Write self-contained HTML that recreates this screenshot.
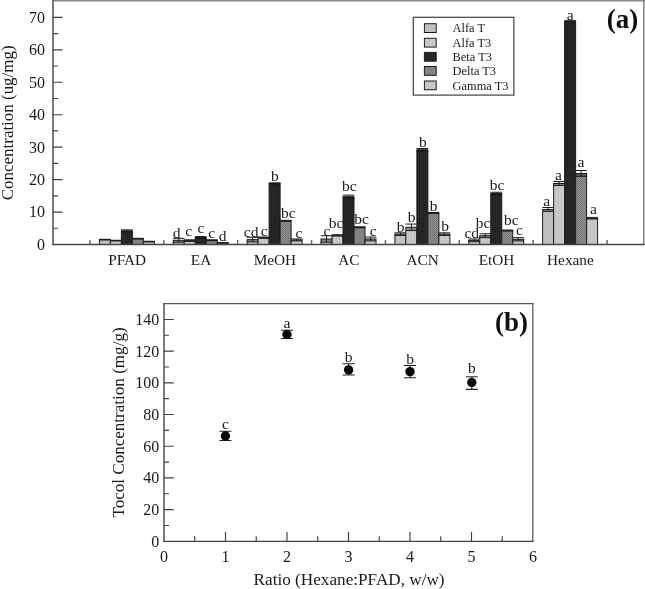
<!DOCTYPE html>
<html><head><meta charset="utf-8"><title>Figure</title>
<style>
html,body{margin:0;padding:0;background:#fff;}
svg{display:block;}
text{font-family:"Liberation Serif",serif;fill:#1a1a1a;}
.tk{font-size:16px;}
.cat{font-size:15.3px;}
.ax{font-size:16.6px;}
.lt{font-size:15.5px;}
.lg{font-size:12.4px;}
.pn{font-size:27px;font-weight:bold;fill:#111;}
</style></head><body>
<svg width="645" height="589" viewBox="0 0 645 589">
<defs>
<pattern id="p1" width="2" height="2" patternUnits="userSpaceOnUse"><rect width="2" height="2" fill="#c3c3c3"/><rect width="1" height="2" fill="#bcbcbc"/></pattern>
<pattern id="p2" width="3" height="2" patternUnits="userSpaceOnUse"><rect width="3" height="2" fill="#cbcbcb"/><rect width="1" height="2" fill="#bdbdbd"/></pattern>
<pattern id="p3" width="2" height="2" patternUnits="userSpaceOnUse"><rect width="2" height="2" fill="#222"/><rect width="1" height="1" fill="#2f2f2f"/></pattern>
<pattern id="p4" width="2" height="2" patternUnits="userSpaceOnUse"><rect width="2" height="2" fill="#8e8e8e"/><rect width="1" height="1" fill="#787878"/><rect x="1" y="1" width="1" height="1" fill="#787878"/></pattern>
<pattern id="p5" width="2" height="2" patternUnits="userSpaceOnUse"><rect width="2" height="2" fill="#c9c9c9"/><rect width="1" height="1" fill="#bfbfbf"/></pattern>
</defs>
<rect width="645" height="589" fill="#fff"/>

<rect x="99.38" y="239.63" width="11.00" height="4.87" fill="url(#p1)" stroke="#1c1c1c" stroke-width="1"/>
<rect x="99.38" y="239.63" width="11.00" height="0.32" fill="#000" fill-opacity="0.3"/>
<path d="M104.88 239.31V239.96M99.08 239.31H110.67M99.08 239.96H110.67" stroke="#1c1c1c" stroke-width="1" fill="none"/>
<rect x="110.38" y="240.61" width="11.00" height="3.89" fill="url(#p2)" stroke="#1c1c1c" stroke-width="1"/>
<rect x="110.38" y="240.61" width="11.00" height="0.32" fill="#000" fill-opacity="0.3"/>
<path d="M115.88 240.28V240.93M110.08 240.28H121.67M110.08 240.93H121.67" stroke="#1c1c1c" stroke-width="1" fill="none"/>
<rect x="121.38" y="230.87" width="11.00" height="13.63" fill="url(#p3)" stroke="#1c1c1c" stroke-width="1"/>
<rect x="121.38" y="230.87" width="11.00" height="0.97" fill="#000" fill-opacity="0.3"/>
<path d="M126.88 229.90V231.84M121.08 229.90H132.68M121.08 231.84H132.68" stroke="#1c1c1c" stroke-width="1" fill="none"/>
<rect x="132.38" y="238.66" width="11.00" height="5.84" fill="url(#p4)" stroke="#1c1c1c" stroke-width="1"/>
<rect x="132.38" y="238.66" width="11.00" height="0.32" fill="#000" fill-opacity="0.3"/>
<path d="M137.88 238.33V238.98M132.07 238.33H143.68M132.07 238.98H143.68" stroke="#1c1c1c" stroke-width="1" fill="none"/>
<rect x="143.38" y="241.58" width="11.00" height="2.92" fill="url(#p5)" stroke="#1c1c1c" stroke-width="1"/>
<rect x="143.38" y="241.58" width="11.00" height="0.32" fill="#000" fill-opacity="0.3"/>
<path d="M148.88 241.25V241.90M143.07 241.25H154.68M143.07 241.90H154.68" stroke="#1c1c1c" stroke-width="1" fill="none"/>
<rect x="173.25" y="240.28" width="11.00" height="4.22" fill="url(#p1)" stroke="#1c1c1c" stroke-width="1"/>
<rect x="173.25" y="240.28" width="11.00" height="1.95" fill="#000" fill-opacity="0.3"/>
<path d="M178.75 238.33V242.23M172.95 238.33H184.55M172.95 242.23H184.55" stroke="#1c1c1c" stroke-width="1" fill="none"/>
<rect x="184.25" y="240.61" width="11.00" height="3.89" fill="url(#p2)" stroke="#1c1c1c" stroke-width="1"/>
<rect x="184.25" y="240.61" width="11.00" height="0.81" fill="#000" fill-opacity="0.3"/>
<path d="M189.75 239.79V241.42M183.95 239.79H195.55M183.95 241.42H195.55" stroke="#1c1c1c" stroke-width="1" fill="none"/>
<rect x="195.25" y="237.52" width="11.00" height="6.98" fill="url(#p3)" stroke="#1c1c1c" stroke-width="1"/>
<rect x="195.25" y="237.52" width="11.00" height="0.97" fill="#000" fill-opacity="0.3"/>
<path d="M200.75 236.55V238.50M194.95 236.55H206.55M194.95 238.50H206.55" stroke="#1c1c1c" stroke-width="1" fill="none"/>
<rect x="206.25" y="240.28" width="11.00" height="4.22" fill="url(#p4)" stroke="#1c1c1c" stroke-width="1"/>
<rect x="206.25" y="240.28" width="11.00" height="0.49" fill="#000" fill-opacity="0.3"/>
<path d="M211.75 239.79V240.77M205.95 239.79H217.55M205.95 240.77H217.55" stroke="#1c1c1c" stroke-width="1" fill="none"/>
<rect x="217.25" y="242.88" width="11.00" height="1.62" fill="url(#p5)" stroke="#1c1c1c" stroke-width="1"/>
<rect x="217.25" y="242.88" width="11.00" height="0.32" fill="#000" fill-opacity="0.3"/>
<path d="M222.75 242.55V243.20M216.95 242.55H228.55M216.95 243.20H228.55" stroke="#1c1c1c" stroke-width="1" fill="none"/>
<rect x="247.12" y="239.63" width="11.00" height="4.87" fill="url(#p1)" stroke="#1c1c1c" stroke-width="1"/>
<rect x="247.12" y="239.63" width="11.00" height="2.27" fill="#000" fill-opacity="0.3"/>
<path d="M252.62 237.36V241.90M246.82 237.36H258.43M246.82 241.90H258.43" stroke="#1c1c1c" stroke-width="1" fill="none"/>
<rect x="258.12" y="237.69" width="11.00" height="6.81" fill="url(#p2)" stroke="#1c1c1c" stroke-width="1"/>
<rect x="258.12" y="237.69" width="11.00" height="0.65" fill="#000" fill-opacity="0.3"/>
<path d="M263.62 237.04V238.33M257.82 237.04H269.43M257.82 238.33H269.43" stroke="#1c1c1c" stroke-width="1" fill="none"/>
<rect x="269.12" y="183.49" width="11.00" height="61.01" fill="url(#p3)" stroke="#1c1c1c" stroke-width="1"/>
<rect x="269.12" y="183.49" width="11.00" height="0.65" fill="#000" fill-opacity="0.3"/>
<path d="M274.62 182.84V184.14M268.82 182.84H280.43M268.82 184.14H280.43" stroke="#1c1c1c" stroke-width="1" fill="none"/>
<rect x="280.12" y="220.81" width="11.00" height="23.69" fill="url(#p4)" stroke="#1c1c1c" stroke-width="1"/>
<rect x="280.12" y="220.81" width="11.00" height="0.49" fill="#000" fill-opacity="0.3"/>
<path d="M285.62 220.32V221.30M279.82 220.32H291.43M279.82 221.30H291.43" stroke="#1c1c1c" stroke-width="1" fill="none"/>
<rect x="291.12" y="239.96" width="11.00" height="4.54" fill="url(#p5)" stroke="#1c1c1c" stroke-width="1"/>
<rect x="291.12" y="239.96" width="11.00" height="0.97" fill="#000" fill-opacity="0.3"/>
<path d="M296.62 238.98V240.93M290.82 238.98H302.43M290.82 240.93H302.43" stroke="#1c1c1c" stroke-width="1" fill="none"/>
<rect x="321.00" y="238.98" width="11.00" height="5.52" fill="url(#p1)" stroke="#1c1c1c" stroke-width="1"/>
<rect x="321.00" y="238.98" width="11.00" height="3.25" fill="#000" fill-opacity="0.3"/>
<path d="M326.50 235.74V242.23M320.70 235.74H332.30M320.70 242.23H332.30" stroke="#1c1c1c" stroke-width="1" fill="none"/>
<rect x="332.00" y="235.41" width="11.00" height="9.09" fill="url(#p2)" stroke="#1c1c1c" stroke-width="1"/>
<rect x="332.00" y="235.41" width="11.00" height="0.65" fill="#000" fill-opacity="0.3"/>
<path d="M337.50 234.76V236.06M331.70 234.76H343.30M331.70 236.06H343.30" stroke="#1c1c1c" stroke-width="1" fill="none"/>
<rect x="343.00" y="196.80" width="11.00" height="47.70" fill="url(#p3)" stroke="#1c1c1c" stroke-width="1"/>
<rect x="343.00" y="196.80" width="11.00" height="1.62" fill="#000" fill-opacity="0.3"/>
<path d="M348.50 195.18V198.42M342.70 195.18H354.30M342.70 198.42H354.30" stroke="#1c1c1c" stroke-width="1" fill="none"/>
<rect x="354.00" y="227.30" width="11.00" height="17.20" fill="url(#p4)" stroke="#1c1c1c" stroke-width="1"/>
<rect x="354.00" y="227.30" width="11.00" height="0.49" fill="#000" fill-opacity="0.3"/>
<path d="M359.50 226.81V227.79M353.70 226.81H365.30M353.70 227.79H365.30" stroke="#1c1c1c" stroke-width="1" fill="none"/>
<rect x="365.00" y="238.98" width="11.00" height="5.52" fill="url(#p5)" stroke="#1c1c1c" stroke-width="1"/>
<rect x="365.00" y="238.98" width="11.00" height="1.95" fill="#000" fill-opacity="0.3"/>
<path d="M370.50 237.04V240.93M364.70 237.04H376.30M364.70 240.93H376.30" stroke="#1c1c1c" stroke-width="1" fill="none"/>
<rect x="394.88" y="234.12" width="11.00" height="10.38" fill="url(#p1)" stroke="#1c1c1c" stroke-width="1"/>
<rect x="394.88" y="234.12" width="11.00" height="1.30" fill="#000" fill-opacity="0.3"/>
<path d="M400.38 232.82V235.41M394.57 232.82H406.18M394.57 235.41H406.18" stroke="#1c1c1c" stroke-width="1" fill="none"/>
<rect x="405.88" y="227.30" width="11.00" height="17.20" fill="url(#p2)" stroke="#1c1c1c" stroke-width="1"/>
<rect x="405.88" y="227.30" width="11.00" height="3.25" fill="#000" fill-opacity="0.3"/>
<path d="M411.38 224.06V230.55M405.57 224.06H417.18M405.57 230.55H417.18" stroke="#1c1c1c" stroke-width="1" fill="none"/>
<rect x="416.88" y="149.75" width="11.00" height="94.75" fill="url(#p3)" stroke="#1c1c1c" stroke-width="1"/>
<rect x="416.88" y="149.75" width="11.00" height="1.30" fill="#000" fill-opacity="0.3"/>
<path d="M422.38 148.45V151.04M416.57 148.45H428.18M416.57 151.04H428.18" stroke="#1c1c1c" stroke-width="1" fill="none"/>
<rect x="427.88" y="213.02" width="11.00" height="31.48" fill="url(#p4)" stroke="#1c1c1c" stroke-width="1"/>
<rect x="427.88" y="213.02" width="11.00" height="0.49" fill="#000" fill-opacity="0.3"/>
<path d="M433.38 212.54V213.51M427.57 212.54H439.18M427.57 213.51H439.18" stroke="#1c1c1c" stroke-width="1" fill="none"/>
<rect x="438.88" y="234.12" width="11.00" height="10.38" fill="url(#p5)" stroke="#1c1c1c" stroke-width="1"/>
<rect x="438.88" y="234.12" width="11.00" height="1.30" fill="#000" fill-opacity="0.3"/>
<path d="M444.38 232.82V235.41M438.57 232.82H450.18M438.57 235.41H450.18" stroke="#1c1c1c" stroke-width="1" fill="none"/>
<rect x="468.75" y="240.28" width="11.00" height="4.22" fill="url(#p1)" stroke="#1c1c1c" stroke-width="1"/>
<rect x="468.75" y="240.28" width="11.00" height="1.30" fill="#000" fill-opacity="0.3"/>
<path d="M474.25 238.98V241.58M468.45 238.98H480.05M468.45 241.58H480.05" stroke="#1c1c1c" stroke-width="1" fill="none"/>
<rect x="479.75" y="235.74" width="11.00" height="8.76" fill="url(#p2)" stroke="#1c1c1c" stroke-width="1"/>
<rect x="479.75" y="235.74" width="11.00" height="1.95" fill="#000" fill-opacity="0.3"/>
<path d="M485.25 233.79V237.69M479.45 233.79H491.05M479.45 237.69H491.05" stroke="#1c1c1c" stroke-width="1" fill="none"/>
<rect x="490.75" y="193.55" width="11.00" height="50.95" fill="url(#p3)" stroke="#1c1c1c" stroke-width="1"/>
<rect x="490.75" y="193.55" width="11.00" height="1.30" fill="#000" fill-opacity="0.3"/>
<path d="M496.25 192.26V194.85M490.45 192.26H502.05M490.45 194.85H502.05" stroke="#1c1c1c" stroke-width="1" fill="none"/>
<rect x="501.75" y="230.55" width="11.00" height="13.95" fill="url(#p4)" stroke="#1c1c1c" stroke-width="1"/>
<rect x="501.75" y="230.55" width="11.00" height="0.49" fill="#000" fill-opacity="0.3"/>
<path d="M507.25 230.06V231.03M501.45 230.06H513.05M501.45 231.03H513.05" stroke="#1c1c1c" stroke-width="1" fill="none"/>
<rect x="512.75" y="239.31" width="11.00" height="5.19" fill="url(#p5)" stroke="#1c1c1c" stroke-width="1"/>
<rect x="512.75" y="239.31" width="11.00" height="1.62" fill="#000" fill-opacity="0.3"/>
<path d="M518.25 237.69V240.93M512.45 237.69H524.05M512.45 240.93H524.05" stroke="#1c1c1c" stroke-width="1" fill="none"/>
<rect x="542.62" y="209.45" width="11.00" height="35.05" fill="url(#p1)" stroke="#1c1c1c" stroke-width="1"/>
<rect x="542.62" y="209.45" width="11.00" height="1.95" fill="#000" fill-opacity="0.3"/>
<path d="M548.12 207.51V211.40M542.33 207.51H553.92M542.33 211.40H553.92" stroke="#1c1c1c" stroke-width="1" fill="none"/>
<rect x="553.62" y="183.49" width="11.00" height="61.01" fill="url(#p2)" stroke="#1c1c1c" stroke-width="1"/>
<rect x="553.62" y="183.49" width="11.00" height="1.95" fill="#000" fill-opacity="0.3"/>
<path d="M559.12 181.55V185.44M553.33 181.55H564.92M553.33 185.44H564.92" stroke="#1c1c1c" stroke-width="1" fill="none"/>
<rect x="564.62" y="21.08" width="11.00" height="223.42" fill="url(#p3)" stroke="#1c1c1c" stroke-width="1"/>
<rect x="564.62" y="21.08" width="11.00" height="0.16" fill="#000" fill-opacity="0.3"/>
<path d="M570.12 20.92V21.24M564.33 20.92H575.92M564.33 21.24H575.92" stroke="#1c1c1c" stroke-width="1" fill="none"/>
<rect x="575.62" y="173.43" width="11.00" height="71.07" fill="url(#p4)" stroke="#1c1c1c" stroke-width="1"/>
<rect x="575.62" y="173.43" width="11.00" height="2.92" fill="#000" fill-opacity="0.3"/>
<path d="M581.12 170.51V176.36M575.33 170.51H586.92M575.33 176.36H586.92" stroke="#1c1c1c" stroke-width="1" fill="none"/>
<rect x="586.62" y="218.22" width="11.00" height="26.28" fill="url(#p5)" stroke="#1c1c1c" stroke-width="1"/>
<rect x="586.62" y="218.22" width="11.00" height="0.81" fill="#000" fill-opacity="0.3"/>
<path d="M592.12 217.40V219.03M586.33 217.40H597.92M586.33 219.03H597.92" stroke="#1c1c1c" stroke-width="1" fill="none"/>
<path d="M52.2 0.8H645.0" stroke="#8c8c8c" stroke-width="1.6" fill="none"/>
<path d="M643.8 0V244.5" stroke="#777" stroke-width="1.4" fill="none"/>
<path d="M53.0 0V245.1" stroke="#636363" stroke-width="1.7" fill="none"/>
<path d="M52.2 244.5H644.5" stroke="#444" stroke-width="1.3" fill="none"/>
<path d="M53.0 228.28h5M53.0 212.05h9.5M53.0 195.82h5M53.0 179.60h9.5M53.0 163.38h5M53.0 147.15h9.5M53.0 130.93h5M53.0 114.70h9.5M53.0 98.47h5M53.0 82.25h9.5M53.0 66.03h5M53.0 49.80h9.5M53.0 33.57h5M53.0 17.35h9.5" stroke="#404040" stroke-width="1.15" fill="none"/>
<text class="tk" x="45" y="249.90" text-anchor="end">0</text>
<text class="tk" x="45" y="217.45" text-anchor="end">10</text>
<text class="tk" x="45" y="185.00" text-anchor="end">20</text>
<text class="tk" x="45" y="152.55" text-anchor="end">30</text>
<text class="tk" x="45" y="120.10" text-anchor="end">40</text>
<text class="tk" x="45" y="87.65" text-anchor="end">50</text>
<text class="tk" x="45" y="55.20" text-anchor="end">60</text>
<text class="tk" x="45" y="22.75" text-anchor="end">70</text>
<path d="M89.94 244.5v-4.6M163.81 244.5v-4.6M237.69 244.5v-4.6M311.56 244.5v-4.6M385.44 244.5v-4.6M459.31 244.5v-4.6M533.19 244.5v-4.6M607.06 244.5v-4.6" stroke="#666" stroke-width="1.5" fill="none"/>
<text class="cat" x="127.17" y="264.5" text-anchor="middle">PFAD</text>
<text class="cat" x="201.05" y="264.5" text-anchor="middle">EA</text>
<text class="cat" x="274.93" y="264.5" text-anchor="middle">MeOH</text>
<text class="cat" x="348.80" y="264.5" text-anchor="middle">AC</text>
<text class="cat" x="422.68" y="264.5" text-anchor="middle">ACN</text>
<text class="cat" x="496.55" y="264.5" text-anchor="middle">EtOH</text>
<text class="cat" x="570.42" y="264.5" text-anchor="middle">Hexane</text>
<text class="ax" transform="translate(12.9 200.2) rotate(-90)" textLength="154.8" lengthAdjust="spacingAndGlyphs">Concentration (ug/mg)</text>
<text class="lt" x="176.7" y="237.5" text-anchor="middle">d</text>
<text class="lt" x="188.6" y="235.8" text-anchor="middle">c</text>
<text class="lt" x="201" y="233.3" text-anchor="middle">c</text>
<text class="lt" x="211.7" y="237.5" text-anchor="middle">c</text>
<text class="lt" x="222.6" y="240.7" text-anchor="middle">d</text>
<text class="lt" x="251.1" y="237" text-anchor="middle">cd</text>
<text class="lt" x="264.3" y="235.8" text-anchor="middle">c</text>
<text class="lt" x="274.9" y="181.2" text-anchor="middle">b</text>
<text class="lt" x="288.3" y="218.4" text-anchor="middle">bc</text>
<text class="lt" x="299" y="237.5" text-anchor="middle">c</text>
<text class="lt" x="326.9" y="235.5" text-anchor="middle">c</text>
<text class="lt" x="336" y="227.5" text-anchor="middle">bc</text>
<text class="lt" x="349.2" y="191.3" text-anchor="middle">bc</text>
<text class="lt" x="361.6" y="224.3" text-anchor="middle">bc</text>
<text class="lt" x="373.3" y="235.5" text-anchor="middle">c</text>
<text class="lt" x="400.6" y="231.7" text-anchor="middle">b</text>
<text class="lt" x="411.7" y="221.8" text-anchor="middle">b</text>
<text class="lt" x="422.9" y="147.4" text-anchor="middle">b</text>
<text class="lt" x="433.6" y="210.6" text-anchor="middle">b</text>
<text class="lt" x="445.2" y="230.5" text-anchor="middle">b</text>
<text class="lt" x="471.8" y="238.4" text-anchor="middle">cd</text>
<text class="lt" x="483" y="228" text-anchor="middle">bc</text>
<text class="lt" x="497.1" y="190.3" text-anchor="middle">bc</text>
<text class="lt" x="511.3" y="225" text-anchor="middle">bc</text>
<text class="lt" x="519.5" y="235" text-anchor="middle">c</text>
<text class="lt" x="546.8" y="205.7" text-anchor="middle">a</text>
<text class="lt" x="558.4" y="180.4" text-anchor="middle">a</text>
<text class="lt" x="570.2" y="19.7" text-anchor="middle">a</text>
<text class="lt" x="581" y="166.5" text-anchor="middle">a</text>
<text class="lt" x="593.4" y="214.4" text-anchor="middle">a</text>
<rect x="413.3" y="17.3" width="100.6" height="77.8" fill="#fff" stroke="#404040" stroke-width="1.2"/>
<rect x="424.4" y="23.70" width="11.8" height="8.8" fill="url(#p1)" stroke="#1c1c1c" stroke-width="1"/>
<text class="lg" x="452.6" y="32.40">Alfa T</text>
<rect x="424.4" y="38.30" width="11.8" height="8.8" fill="url(#p2)" stroke="#1c1c1c" stroke-width="1"/>
<text class="lg" x="452.6" y="47.00">Alfa T3</text>
<rect x="424.4" y="52.40" width="11.8" height="8.8" fill="url(#p3)" stroke="#1c1c1c" stroke-width="1"/>
<text class="lg" x="452.6" y="61.10">Beta T3</text>
<rect x="424.4" y="66.50" width="11.8" height="8.8" fill="url(#p4)" stroke="#1c1c1c" stroke-width="1"/>
<text class="lg" x="452.6" y="75.20">Delta T3</text>
<rect x="424.4" y="81.00" width="11.8" height="8.8" fill="url(#p5)" stroke="#1c1c1c" stroke-width="1"/>
<text class="lg" x="452.6" y="89.70">Gamma T3</text>
<text class="pn" x="622.6" y="28.2" text-anchor="middle">(a)</text>
<path d="M163.2 303.7H533.5" stroke="#555" stroke-width="1.2" fill="none"/>
<path d="M532.8 303.1V541.9" stroke="#5c5c5c" stroke-width="1.3" fill="none"/>
<path d="M164.0 303.1V541.9" stroke="#636363" stroke-width="1.7" fill="none"/>
<path d="M163.2 541.3H533.5" stroke="#444" stroke-width="1.3" fill="none"/>
<path d="M164.0 525.45h5M164.0 509.61h9.7M164.0 493.76h5M164.0 477.91h9.7M164.0 462.07h5M164.0 446.22h9.7M164.0 430.37h5M164.0 414.53h9.7M164.0 398.68h5M164.0 382.83h9.7M164.0 366.99h5M164.0 351.14h9.7M164.0 335.29h5M164.0 319.45h9.7M194.75 541.3v-5M225.50 541.3v-9.3M256.25 541.3v-5M287.00 541.3v-9.3M317.75 541.3v-5M348.50 541.3v-9.3M379.25 541.3v-5M410.00 541.3v-9.3M440.75 541.3v-5M471.50 541.3v-9.3M502.25 541.3v-5" stroke="#404040" stroke-width="1.15" fill="none"/>
<text class="tk" x="159.3" y="546.70" text-anchor="end">0</text>
<text class="tk" x="159.3" y="515.01" text-anchor="end">20</text>
<text class="tk" x="159.3" y="483.31" text-anchor="end">40</text>
<text class="tk" x="159.3" y="451.62" text-anchor="end">60</text>
<text class="tk" x="159.3" y="419.93" text-anchor="end">80</text>
<text class="tk" x="159.3" y="388.23" text-anchor="end">100</text>
<text class="tk" x="159.3" y="356.54" text-anchor="end">120</text>
<text class="tk" x="159.3" y="324.85" text-anchor="end">140</text>
<text class="tk" x="164.00" y="562" text-anchor="middle">0</text>
<text class="tk" x="225.50" y="562" text-anchor="middle">1</text>
<text class="tk" x="287.00" y="562" text-anchor="middle">2</text>
<text class="tk" x="348.50" y="562" text-anchor="middle">3</text>
<text class="tk" x="410.00" y="562" text-anchor="middle">4</text>
<text class="tk" x="471.50" y="562" text-anchor="middle">5</text>
<text class="tk" x="533.00" y="562" text-anchor="middle">6</text>
<text class="ax" transform="translate(123.5 517.6) rotate(-90)" textLength="190.2" lengthAdjust="spacingAndGlyphs">Tocol Concentration (mg/g)</text>
<text class="ax" x="253.6" y="584.8" textLength="191" lengthAdjust="spacingAndGlyphs">Ratio (Hexane:PFAD, w/w)</text>
<path d="M225.4 431.2V440.5M219.4 431.2h12M219.4 440.5h12" stroke="#222" stroke-width="1.1" fill="none"/>
<circle cx="225.4" cy="436" r="4.7" fill="#0a0a0a"/>
<text class="lt" x="225.4" y="428.8" text-anchor="middle">c</text>
<path d="M287 330.2V338.5M281 330.2h12M281 338.5h12" stroke="#222" stroke-width="1.1" fill="none"/>
<circle cx="287" cy="334.5" r="4.7" fill="#0a0a0a"/>
<text class="lt" x="287" y="328.3" text-anchor="middle">a</text>
<path d="M348.6 363.8V375M342.6 363.8h12M342.6 375h12" stroke="#222" stroke-width="1.1" fill="none"/>
<circle cx="348.6" cy="369.9" r="4.7" fill="#0a0a0a"/>
<text class="lt" x="348.6" y="362.4" text-anchor="middle">b</text>
<path d="M410 365.5V377.8M404 365.5h12M404 377.8h12" stroke="#222" stroke-width="1.1" fill="none"/>
<circle cx="410" cy="371.6" r="4.7" fill="#0a0a0a"/>
<text class="lt" x="410" y="363.8" text-anchor="middle">b</text>
<path d="M471.8 376.7V389.4M465.8 376.7h12M465.8 389.4h12" stroke="#222" stroke-width="1.1" fill="none"/>
<circle cx="471.8" cy="382.5" r="4.7" fill="#0a0a0a"/>
<text class="lt" x="471.8" y="373.3" text-anchor="middle">b</text>
<text class="pn" x="511.5" y="330.7" text-anchor="middle">(b)</text>
</svg></body></html>
